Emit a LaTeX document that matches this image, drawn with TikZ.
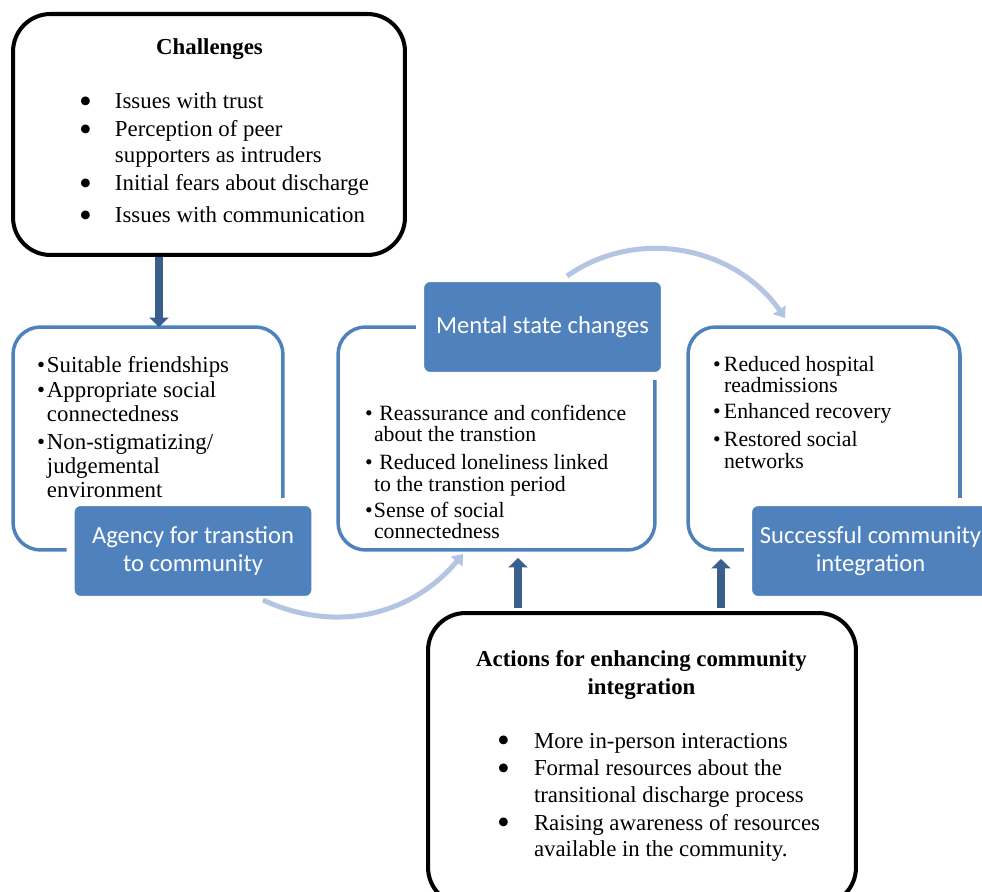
\documentclass[tikz,border=0pt]{standalone}
\usepackage{fontspec}
\setmainfont{Liberation Serif}
\newfontfamily\calfont{Carlito}
\usetikzlibrary{arrows.meta}

\definecolor{boxblue}{HTML}{4F81BD}
\definecolor{arrowblue}{HTML}{3A5F8E}
\definecolor{flowblue}{HTML}{B3C5E2}

% larger list bullet for the two black boxes
\newcommand{\bigbul}{\smash{\raisebox{-2.6pt}{\scalebox{1.6}{\textbullet}}}}

\begin{document}
\begin{tikzpicture}[
  x=0.02cm, y=-0.02cm,
  every node/.style={outer sep=0pt},
  blackbox/.style={rectangle, rounded corners=0.75cm, draw=black, line width=2.3pt},
  bluebox/.style={rectangle, rounded corners=0.55cm, draw=boxblue, line width=2pt,
                  minimum height=4.46cm},
  tagbox/.style={rectangle, rounded corners=0.2cm, fill=boxblue, draw=white,
                 line width=0.16cm, minimum width=4.9cm, minimum height=1.96cm,
                 align=center, text=white, font=\calfont\fontsize{14}{16}\selectfont},
  ttl/.style={anchor=base, inner sep=0pt, font=\bfseries\fontsize{13}{16.4}\selectfont},
  lst/.style={anchor=base west, inner sep=0pt},
  darr/.style={draw=arrowblue, line width=0.16cm, -{Triangle[length=0.19cm, width=0.38cm]}},
  flow/.style={draw=flowblue, line width=0.1cm, -{Triangle[length=0.2cm, width=0.3cm]}}
]
\useasboundingbox (0,0) rectangle (982,891);

% outer boxes
\node[blackbox, minimum width=7.84cm, minimum height=4.82cm] (chal) at (209,134.5) {};
\node[bluebox, minimum width=5.4cm]  (lbox) at (148,438.5) {};
\node[bluebox, minimum width=6.34cm] (mbox) at (496.5,438.5) {};
\node[bluebox, minimum width=5.44cm] (rbox) at (824,438.5) {};
\node[blackbox, minimum width=8.56cm, minimum height=5.84cm] (act) at (642,759) {};

% labels sitting on the box outlines
\node[tagbox] (agency)  at (193,551)   {Agency for transtion\\to community};
\node[tagbox] (mental)  at (542.5,327) {Mental state changes};
\node[tagbox] (success) at (870.5,551) {Successful community\\integration};

% box contents
\node[ttl] (chal-t) at (209.5,55) {Challenges};
\node[lst, font=\fontsize{13}{14.7}\selectfont] (chal-l) at (79,109) {%
\begin{tabular}[t]{@{}p{0.72cm}@{}l@{}}
\bigbul & Issues with trust\\[1.2pt]
\bigbul & Perception of peer\\
 & supporters as intruders\\[1.2pt]
\bigbul & Initial fears about discharge\\[3.4pt]
\bigbul & Issues with communication
\end{tabular}};

\node[lst, font=\fontsize{13}{13.6}\selectfont] (lbox-l) at (37,372) {%
\begin{tabular}[t]{@{}p{0.2cm}@{}l@{}}
\textbullet & Suitable friendships\\[1.1pt]
\textbullet & Appropriate social\\
 & connectedness\\[2.3pt]
\textbullet & Non-stigmatizing/\\
 & judgemental\\
 & environment
\end{tabular}};

\node[lst, font=\fontsize{12.4}{12.2}\selectfont] (mbox-l) at (365,420) {%
\begin{tabular}[t]{@{}p{0.18cm}@{}l@{}}
\textbullet & \ Reassurance and confidence\\
 & about the transtion\\[3.7pt]
\textbullet & \ Reduced loneliness linked\\
 & to the transtion period\\[2.5pt]
\textbullet & Sense of social\\
 & connectedness
\end{tabular}};

\node[lst, font=\fontsize{12.4}{12.2}\selectfont] (rbox-l) at (713,371) {%
\begin{tabular}[t]{@{}p{0.22cm}@{}l@{}}
\textbullet & Reduced hospital\\
 & readmissions\\[2.5pt]
\textbullet & Enhanced recovery\\[3.7pt]
\textbullet & Restored social\\
 & networks
\end{tabular}};

\node[ttl] (act-t) at (641.5,666) {%
\begin{tabular}[t]{@{}c@{}}Actions for enhancing community\\integration\end{tabular}};
\node[lst, font=\fontsize{13}{15}\selectfont] (act-l) at (497,748) {%
\begin{tabular}[t]{@{}p{0.74cm}@{}l@{}}
\bigbul & More in-person interactions\\[0.9pt]
\bigbul & Formal resources about the\\
 & transitional discharge process\\[0.9pt]
\bigbul & Raising awareness of resources\\
 & available in the community.
\end{tabular}};

% straight arrows
\coordinate (xdown) at (159,0);
\coordinate (xup1)  at (518,0);
\coordinate (xup2)  at (721,0);
\draw[darr, shorten <=0.04cm] (chal.south -| xdown) -- (lbox.north -| xdown);
\draw[darr, shorten <=0.1cm, shorten >=0.16cm] (act.north -| xup1) -- (mbox.south -| xup1);
\draw[darr, shorten <=0.1cm, shorten >=0.18cm] (act.north -| xup2) -- (rbox.south -| xup2);

% curved flow arrows
\draw[flow] ([xshift=1.4cm]agency.south) to[out=-25, in=-130]
      ([xshift=-0.67cm, yshift=-0.08cm]mbox.south);
\draw[flow] ([xshift=0.49cm, yshift=0.04cm]mental.north) to[out=35, in=125]
      ([xshift=-0.78cm, yshift=0.18cm]rbox.north);

\end{tikzpicture}
\end{document}
